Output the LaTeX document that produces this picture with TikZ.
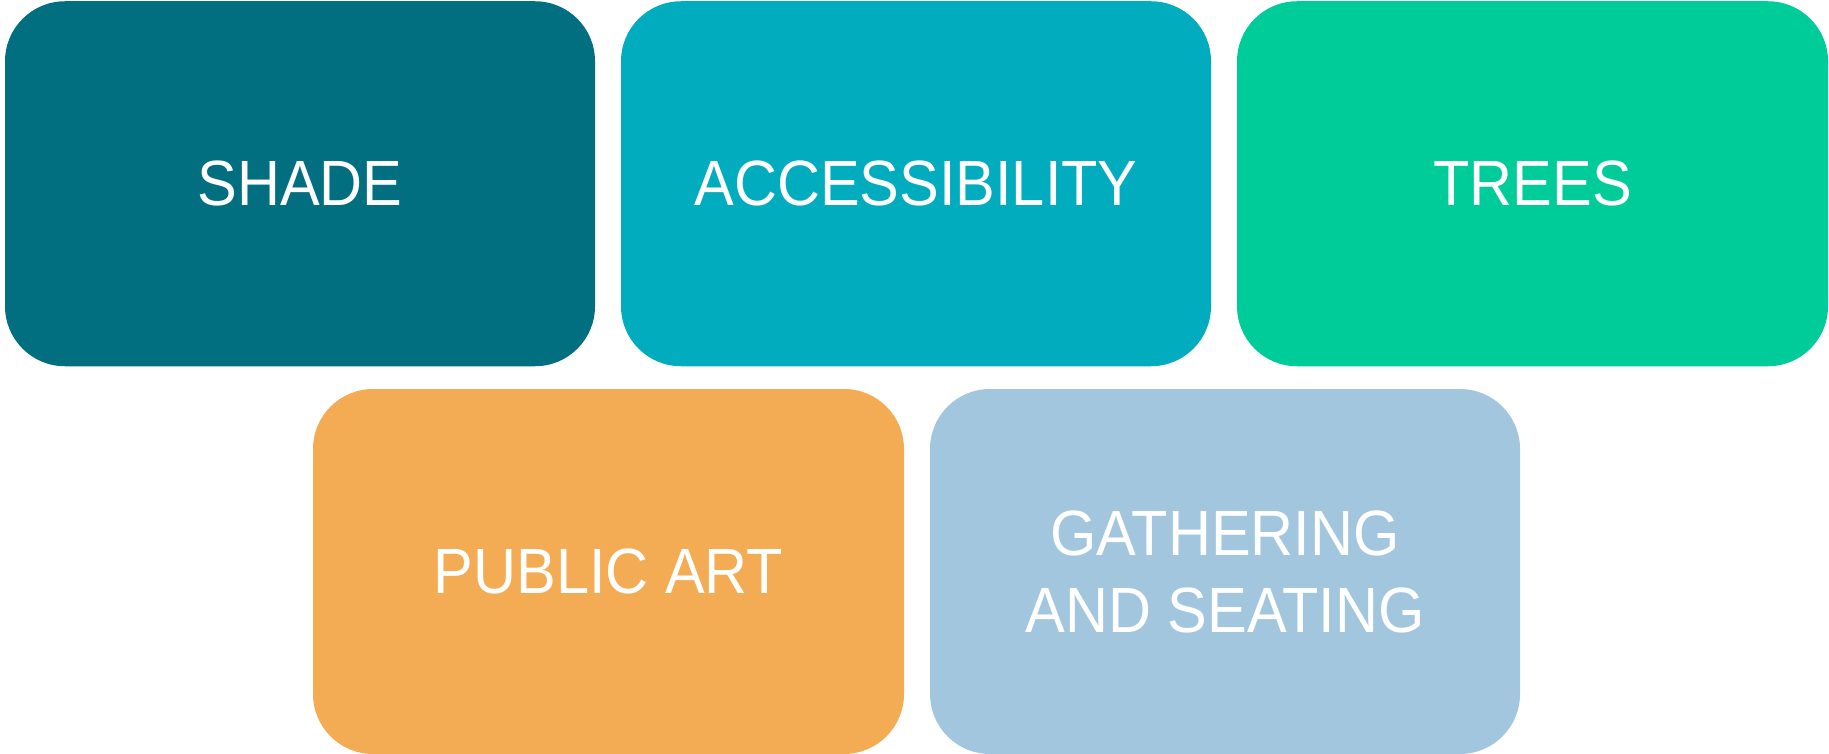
\documentclass[tikz,border=0pt]{standalone}
\usepackage{fontspec}
\setmainfont{Liberation Sans}[FakeStretch=0.93]
\definecolor{cshade}{HTML}{026F80}
\definecolor{caccess}{HTML}{01ACBE}
\definecolor{ctrees}{HTML}{00CC99}
\definecolor{cart}{HTML}{F4AC54}
\definecolor{cgather}{HTML}{A3C6DF}
\begin{document}
\begin{tikzpicture}[x=1pt,y=-1pt,
  box/.style={rectangle, rounded corners=60pt, inner sep=0pt,
    minimum width=590pt, minimum height=365pt, text=white,
    font=\fontsize{64}{77}\selectfont, align=center}]
\useasboundingbox (0,0) rectangle (1829,754);
\node[box, fill=cshade]  (shade)  at (300,183.75) {SHADE};
\node[box, fill=caccess] (access) at (916,183.75) {ACCESSIBILITY};
\node[box, fill=ctrees, minimum width=591pt] (trees) at (1532.5,183.75) {TREES};
\node[box, fill=cart, minimum width=591pt] (art) at (608.5,571.5) {PUBLIC ART};
\node[box, fill=cgather] (gather) at (1225,571.5) {GATHERING\\AND SEATING};
\end{tikzpicture}
\end{document}
